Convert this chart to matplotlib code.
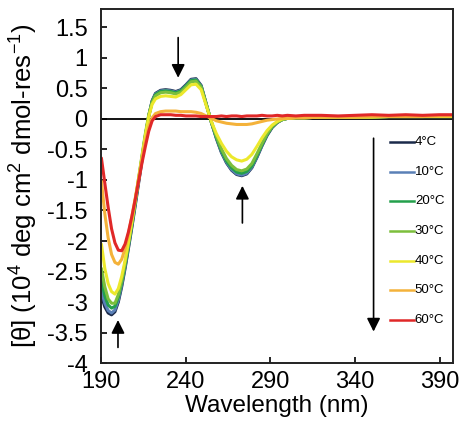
import matplotlib
matplotlib.use("Agg")
import matplotlib.pyplot as plt

plt.rcParams['font.family'] = ['Liberation Sans', 'DejaVu Sans']
plt.rcParams['mathtext.fontset'] = 'custom'
plt.rcParams['mathtext.rm'] = 'Liberation Sans'
plt.rcParams['mathtext.it'] = 'Liberation Sans:italic'

# wavelength grid (nm)
wl = [190, 192, 194, 196, 198, 200, 202, 204, 206, 208, 210, 212, 214, 216, 218, 220, 222,
      225, 228, 231, 234, 237, 240, 243, 246, 249, 252, 255, 258, 261, 264, 267, 270, 273,
      276, 279, 282, 285, 288, 291, 294, 297, 300, 305, 310, 320, 330, 340, 350, 360, 370,
      380, 390, 398]

tail = [0.02, 0.02, 0.03, 0.03, 0.03, 0.03, 0.04, 0.04, 0.04, 0.04, 0.04]

t4 = [-2.90, -3.08, -3.18, -3.21, -3.16, -3.00, -2.75, -2.45, -2.12, -1.78, -1.42, -1.05, -0.68,
      -0.30, 0.05, 0.30, 0.42, 0.47, 0.48, 0.47, 0.45, 0.48, 0.56, 0.65, 0.66, 0.55, 0.25, -0.05,
      -0.32, -0.55, -0.72, -0.84, -0.91, -0.93, -0.90, -0.80, -0.63, -0.44, -0.27, -0.14, -0.06,
      -0.01, 0.01] + tail
t10 = [-2.82, -3.02, -3.14, -3.18, -3.13, -2.97, -2.72, -2.42, -2.09, -1.75, -1.39, -1.02, -0.65,
       -0.28, 0.05, 0.29, 0.41, 0.46, 0.47, 0.46, 0.44, 0.47, 0.55, 0.64, 0.65, 0.54, 0.24, -0.05,
       -0.31, -0.54, -0.71, -0.83, -0.90, -0.92, -0.89, -0.79, -0.62, -0.43, -0.26, -0.13, -0.05,
       -0.01, 0.01] + tail
t20 = [-2.65, -2.90, -3.05, -3.10, -3.07, -2.92, -2.68, -2.39, -2.07, -1.73, -1.37, -1.00, -0.63,
       -0.27, 0.05, 0.28, 0.40, 0.45, 0.46, 0.45, 0.43, 0.46, 0.54, 0.63, 0.64, 0.53, 0.24, -0.05,
       -0.30, -0.52, -0.69, -0.80, -0.87, -0.89, -0.86, -0.77, -0.60, -0.42, -0.25, -0.13, -0.05,
       -0.01, 0.01] + tail
t30 = [-2.45, -2.75, -2.95, -3.02, -3.02, -2.88, -2.65, -2.36, -2.04, -1.70, -1.34, -0.97, -0.60,
       -0.24, 0.07, 0.27, 0.38, 0.43, 0.44, 0.43, 0.41, 0.44, 0.52, 0.61, 0.62, 0.52, 0.24, -0.04,
       -0.28, -0.49, -0.65, -0.76, -0.83, -0.85, -0.82, -0.73, -0.57, -0.40, -0.24, -0.12, -0.05,
       -0.01, 0.01] + tail
t40 = [-2.05, -2.45, -2.70, -2.83, -2.87, -2.78, -2.58, -2.32, -2.02, -1.69, -1.34, -0.98, -0.62,
       -0.27, 0.04, 0.24, 0.33, 0.37, 0.38, 0.37, 0.36, 0.40, 0.48, 0.56, 0.57, 0.48, 0.22, -0.04,
       -0.24, -0.40, -0.53, -0.62, -0.67, -0.69, -0.66, -0.58, -0.45, -0.31, -0.19, -0.10, -0.04,
       0.00, 0.01] + tail
t50 = [-1.02, -1.55, -1.95, -2.22, -2.35, -2.38, -2.30, -2.12, -1.88, -1.60, -1.30, -0.98, -0.66,
       -0.37, -0.13, 0.02, 0.09, 0.12, 0.13, 0.13, 0.13, 0.12, 0.12, 0.12, 0.11, 0.09, 0.05, 0.01,
       -0.03, -0.05, -0.07, -0.08, -0.09, -0.09, -0.09, -0.08, -0.06, -0.04, -0.02, -0.01, 0.00,
       0.01, 0.01, 0.02, 0.02, 0.03, 0.03, 0.03, 0.04, 0.04, 0.04, 0.04, 0.05, 0.05]
t60 = [-0.64, -1.05, -1.45, -1.80, -2.03, -2.15, -2.16, -2.05, -1.85, -1.60, -1.32, -1.02, -0.72,
       -0.45, -0.20, -0.03, 0.04, 0.07, 0.07, 0.07, 0.06, 0.06, 0.05, 0.05, 0.05, 0.04, 0.04, 0.04,
       0.04, 0.05, 0.04, 0.05, 0.05, 0.04, 0.05, 0.05, 0.05, 0.06, 0.05, 0.05, 0.06, 0.05, 0.06,
       0.05, 0.06, 0.06, 0.05, 0.06, 0.07, 0.06, 0.07, 0.06, 0.07, 0.07]

labels = ['4°C', '10°C', '20°C', '30°C', '40°C', '50°C', '60°C']
series = [t4, t10, t20, t30, t40, t50, t60]
colors = ['#1b2a4a', '#5a80b6', '#24a04c', '#7cbf3c', '#ece82c', '#f4b23a', '#e02828']

fig = plt.figure(figsize=(4.68, 4.37), dpi=100)
ax = fig.add_axes([0.2167, 0.1693, 0.7513, 0.8097])

ax.axhline(0, color='black', lw=1.3, zorder=1)
for y, c in zip(series, colors):
    ax.plot(wl, y, color=c, lw=2.2, solid_capstyle='round', zorder=2)

ax.set_xlim(190, 398)
ax.set_ylim(-4, 1.8)
ax.set_xticks([190, 240, 290, 340, 390])
ax.set_yticks([1.5, 1, 0.5, 0, -0.5, -1, -1.5, -2, -2.5, -3, -3.5, -4])
ax.set_yticklabels(['1.5', '1', '0.5', '0', '-0.5', '-1', '-1.5', '-2', '-2.5', '-3', '-3.5', '-4'])
ax.tick_params(direction='in', length=4, width=1.2, labelsize=17)
ax.tick_params(axis='y', pad=10)
ax.tick_params(axis='x', pad=6)
for s in ax.spines.values():
    s.set_linewidth(1.4)
    s.set_color('#222222')

ax.set_xlabel('Wavelength (nm)', fontsize=17.5, labelpad=1)
ax.set_ylabel('[θ] (10$^4$ deg cm$^2$ dmol-res$^{-1}$)', fontsize=18.5)
ax.yaxis.set_label_coords(-0.175, 0.5)

# annotation arrows
arr = dict(arrowstyle='-|>', color='black', lw=1.2, mutation_scale=20)
ax.annotate('', xy=(235.4, 0.63), xytext=(235.4, 1.38), arrowprops=arr)
ax.annotate('', xy=(273.4, -1.05), xytext=(273.4, -1.75), arrowprops=arr)
ax.annotate('', xy=(199.8, -3.25), xytext=(199.8, -3.79), arrowprops=arr)
ax.annotate('', xy=(351, -3.53), xytext=(351, -0.27), arrowprops=arr)

# legend drawn by hand
for i, (lab, c) in enumerate(zip(labels, colors)):
    yy = -0.38 - i * 0.485
    ax.plot([360.5, 374.7], [yy, yy], color=c, lw=1.8)
    ax.text(375.4, yy, lab, fontsize=9.5, va='center', ha='left')

fig.savefig('out.png', dpi=100)
